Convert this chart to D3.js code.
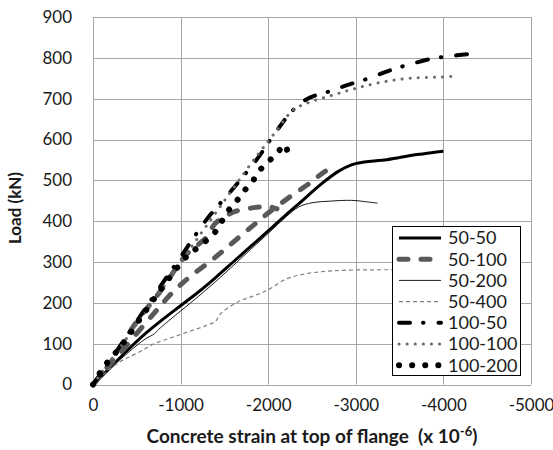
<!DOCTYPE html>
<html>
<head>
<meta charset="utf-8">
<script src="https://cdn.jsdelivr.net/npm/d3@7"></script>
<style>
  html, body { margin: 0; padding: 0; background: #fff; }
  svg { display: block; }
  text { font-family: Lato, "Open Sans", sans-serif; fill: #1a1a1a; }
</style>
</head>
<body>
<svg id="chart" width="553" height="450"></svg>
<script>
// Load–strain curves: [concrete strain (x10^-6), load (kN)]
const s50_50 = [[0,0],[-200,42],[-400,85],[-600,125],[-800,160],[-1000,193],[-1200,226],[-1400,262],[-1600,300],[-1800,338],[-2000,376],[-2200,415],[-2400,452],[-2600,490],[-2800,522],[-2950,538],[-3100,545],[-3300,549],[-3500,556],[-3700,563],[-3900,569],[-4000,571]];
const s50_100 = [[0,0],[-194,52],[-342,101],[-457,141],[-628,190],[-765,227],[-879,263],[-959,288],[-1073,320],[-1221,346],[-1301,362],[-1393,394],[-1484,408],[-1598,422],[-1678,427],[-1906,435],[-2020,435],[-2100,430]];
const s50_100b = [[0,0],[-300,75],[-708,177],[-879,219],[-1085,260],[-1358,305],[-1564,342],[-1792,383],[-2000,420],[-2250,460],[-2500,497],[-2650,522],[-2785,533]];
const s50_200 = [[0,0],[-200,40],[-400,78],[-600,112],[-700,124],[-750,135],[-1000,180],[-1200,215],[-1400,252],[-1600,291],[-1800,331],[-2000,370],[-2200,410],[-2350,435],[-2500,445],[-2700,449],[-2950,451],[-3100,448],[-3250,444]];
const s50_400 = [[0,0],[-150,30],[-300,55],[-400,66],[-550,82],[-700,100],[-900,115],[-1100,130],[-1300,145],[-1400,155],[-1450,172],[-1650,202],[-1850,218],[-2000,232],[-2200,258],[-2400,270],[-2600,276],[-2900,280],[-3420,281]];
const s100_50 = [[0,0],[-200,60],[-500,155],[-800,250],[-1000,312],[-1300,405],[-1600,480],[-1900,560],[-2000,592],[-2100,622],[-2170,643],[-2283,672],[-2450,700],[-2700,718],[-2900,733],[-3150,750],[-3400,770],[-3600,783],[-3850,797],[-4075,804],[-4270,809]];
const s100_100 = [[0,0],[-300,88],[-600,178],[-900,268],[-1200,360],[-1500,450],[-1800,540],[-1940,579],[-2100,623],[-2283,672],[-2443,689],[-2740,709],[-3014,726],[-3310,741],[-3619,750],[-3960,753],[-4155,755]];
const s100_200 = [[0,0],[-114,40],[-331,97],[-600,180],[-850,255],[-1085,317],[-1187,334],[-1393,373],[-1530,422],[-1632,447],[-1712,471],[-1815,495],[-1884,520],[-1986,542],[-2078,562],[-2200,587],[-2215,572]];

const xTicks = [0, -1000, -2000, -3000, -4000, -5000];
const yTicks = [0, 100, 200, 300, 400, 500, 600, 700, 800, 900];
const legendNames = ["50-50", "50-100", "50-200", "50-400", "100-50", "100-100", "100-200"];

// Line styles per series
const styles = {
  "50-50":   { color: "#000000", width: 3,   dash: null,            cap: "butt" },
  "50-100":  { color: "#595959", width: 5,   dash: "9,13",          cap: "round" },
  "50-200":  { color: "#1a1a1a", width: 1,   dash: null,            cap: "butt" },
  "50-400":  { color: "#808080", width: 1.2, dash: "4,3",           cap: "butt" },
  "100-50":  { color: "#000000", width: 4,   dash: "11,13,0.5,15",  cap: "round" },
  "100-100": { color: "#6a6a6a", width: 3,   dash: "0.1,8",         cap: "round" },
  "100-200": { color: "#000000", width: 6,   dash: "0.1,13",        cap: "round" }
};

const series = [
  { name: "50-50", data: s50_50 },
  { name: "50-100", data: s50_100 },
  { name: "50-100", data: s50_100b },
  { name: "50-200", data: s50_200 },
  { name: "50-400", data: s50_400 },
  { name: "100-50", data: s100_50 },
  { name: "100-100", data: s100_100 },
  { name: "100-200", data: s100_200 }
];

const svg = d3.select("#chart");
const plot = { left: 93, right: 531, top: 17, bottom: 384.5 };

const x = d3.scaleLinear().domain([0, -5000]).range([plot.left, plot.right]);
const y = d3.scaleLinear().domain([0, 900]).range([plot.bottom, plot.top]);

// Gridlines
const grid = svg.append("g").attr("stroke", "#a6a6a6").attr("stroke-width", 1);
xTicks.forEach(t => grid.append("line")
  .attr("x1", Math.round(x(t)) + 0.5).attr("x2", Math.round(x(t)) + 0.5)
  .attr("y1", plot.top).attr("y2", plot.bottom));
yTicks.forEach(t => grid.append("line")
  .attr("x1", plot.left).attr("x2", plot.right)
  .attr("y1", Math.round(y(t)) + 0.5).attr("y2", Math.round(y(t)) + 0.5));

// Axes (labels only; grid draws the lines)
const xAxis = svg.append("g")
  .attr("transform", `translate(0,${plot.bottom})`)
  .call(d3.axisBottom(x).tickValues(xTicks).tickSize(0).tickPadding(14).tickFormat(d3.format("d")));
const yAxis = svg.append("g")
  .attr("transform", `translate(${plot.left},0)`)
  .call(d3.axisLeft(y).tickValues(yTicks).tickSize(0).tickPadding(21).tickFormat(d3.format("d")));
[xAxis, yAxis].forEach(a => {
  a.select(".domain").remove();
  a.selectAll("text").style("font-family", "Lato, sans-serif").style("font-size", "17px").attr("fill", "#1a1a1a");
});
xAxis.selectAll("text").text(d => d === 0 ? "0" : "-" + Math.abs(d));

// Curves
const line = d3.line()
  .x(d => x(d[0])).y(d => y(d[1]))
  .curve(d3.curveCatmullRom.alpha(0.5));

series.forEach(s => {
  const st = styles[s.name];
  svg.append("path")
    .datum(s.data)
    .attr("d", line)
    .attr("fill", "none")
    .attr("stroke", st.color)
    .attr("stroke-width", st.width)
    .attr("stroke-linecap", st.cap)
    .attr("stroke-linejoin", "round")
    .attr("stroke-dasharray", st.dash);
});

// Legend
const lg = svg.append("g");
lg.append("rect")
  .attr("x", 392.5).attr("y", 226.5).attr("width", 128).attr("height", 149)
  .attr("fill", "#fff").attr("stroke", "#000").attr("stroke-width", 1);
legendNames.forEach((n, i) => {
  const st = styles[n];
  const cy = 238 + i * 21.2;
  lg.append("line")
    .attr("x1", 399).attr("x2", 441).attr("y1", cy).attr("y2", cy)
    .attr("stroke", st.color).attr("stroke-width", st.width)
    .attr("stroke-linecap", st.cap).attr("stroke-dasharray", st.dash);
  lg.append("text")
    .attr("x", 448).attr("y", cy).attr("dy", "0.35em")
    .style("font-size", "18px").text(n);
});

// Axis titles
svg.append("text")
  .attr("transform", `translate(21,208) rotate(-90)`)
  .attr("text-anchor", "middle")
  .style("font-size", "17px").style("font-weight", "bold")
  .text("Load (kN)");

const xt = svg.append("text")
  .attr("x", (plot.left + plot.right) / 2).attr("y", 443)
  .attr("text-anchor", "middle")
  .style("font-size", "19px").style("font-weight", "bold");
xt.append("tspan").text("Concrete strain at top of flange\u00a0 (x 10");
xt.append("tspan").attr("dy", "-7").style("font-size", "13px").text("-6");
xt.append("tspan").attr("dy", "7").text(")");
</script>
</body>
</html>
